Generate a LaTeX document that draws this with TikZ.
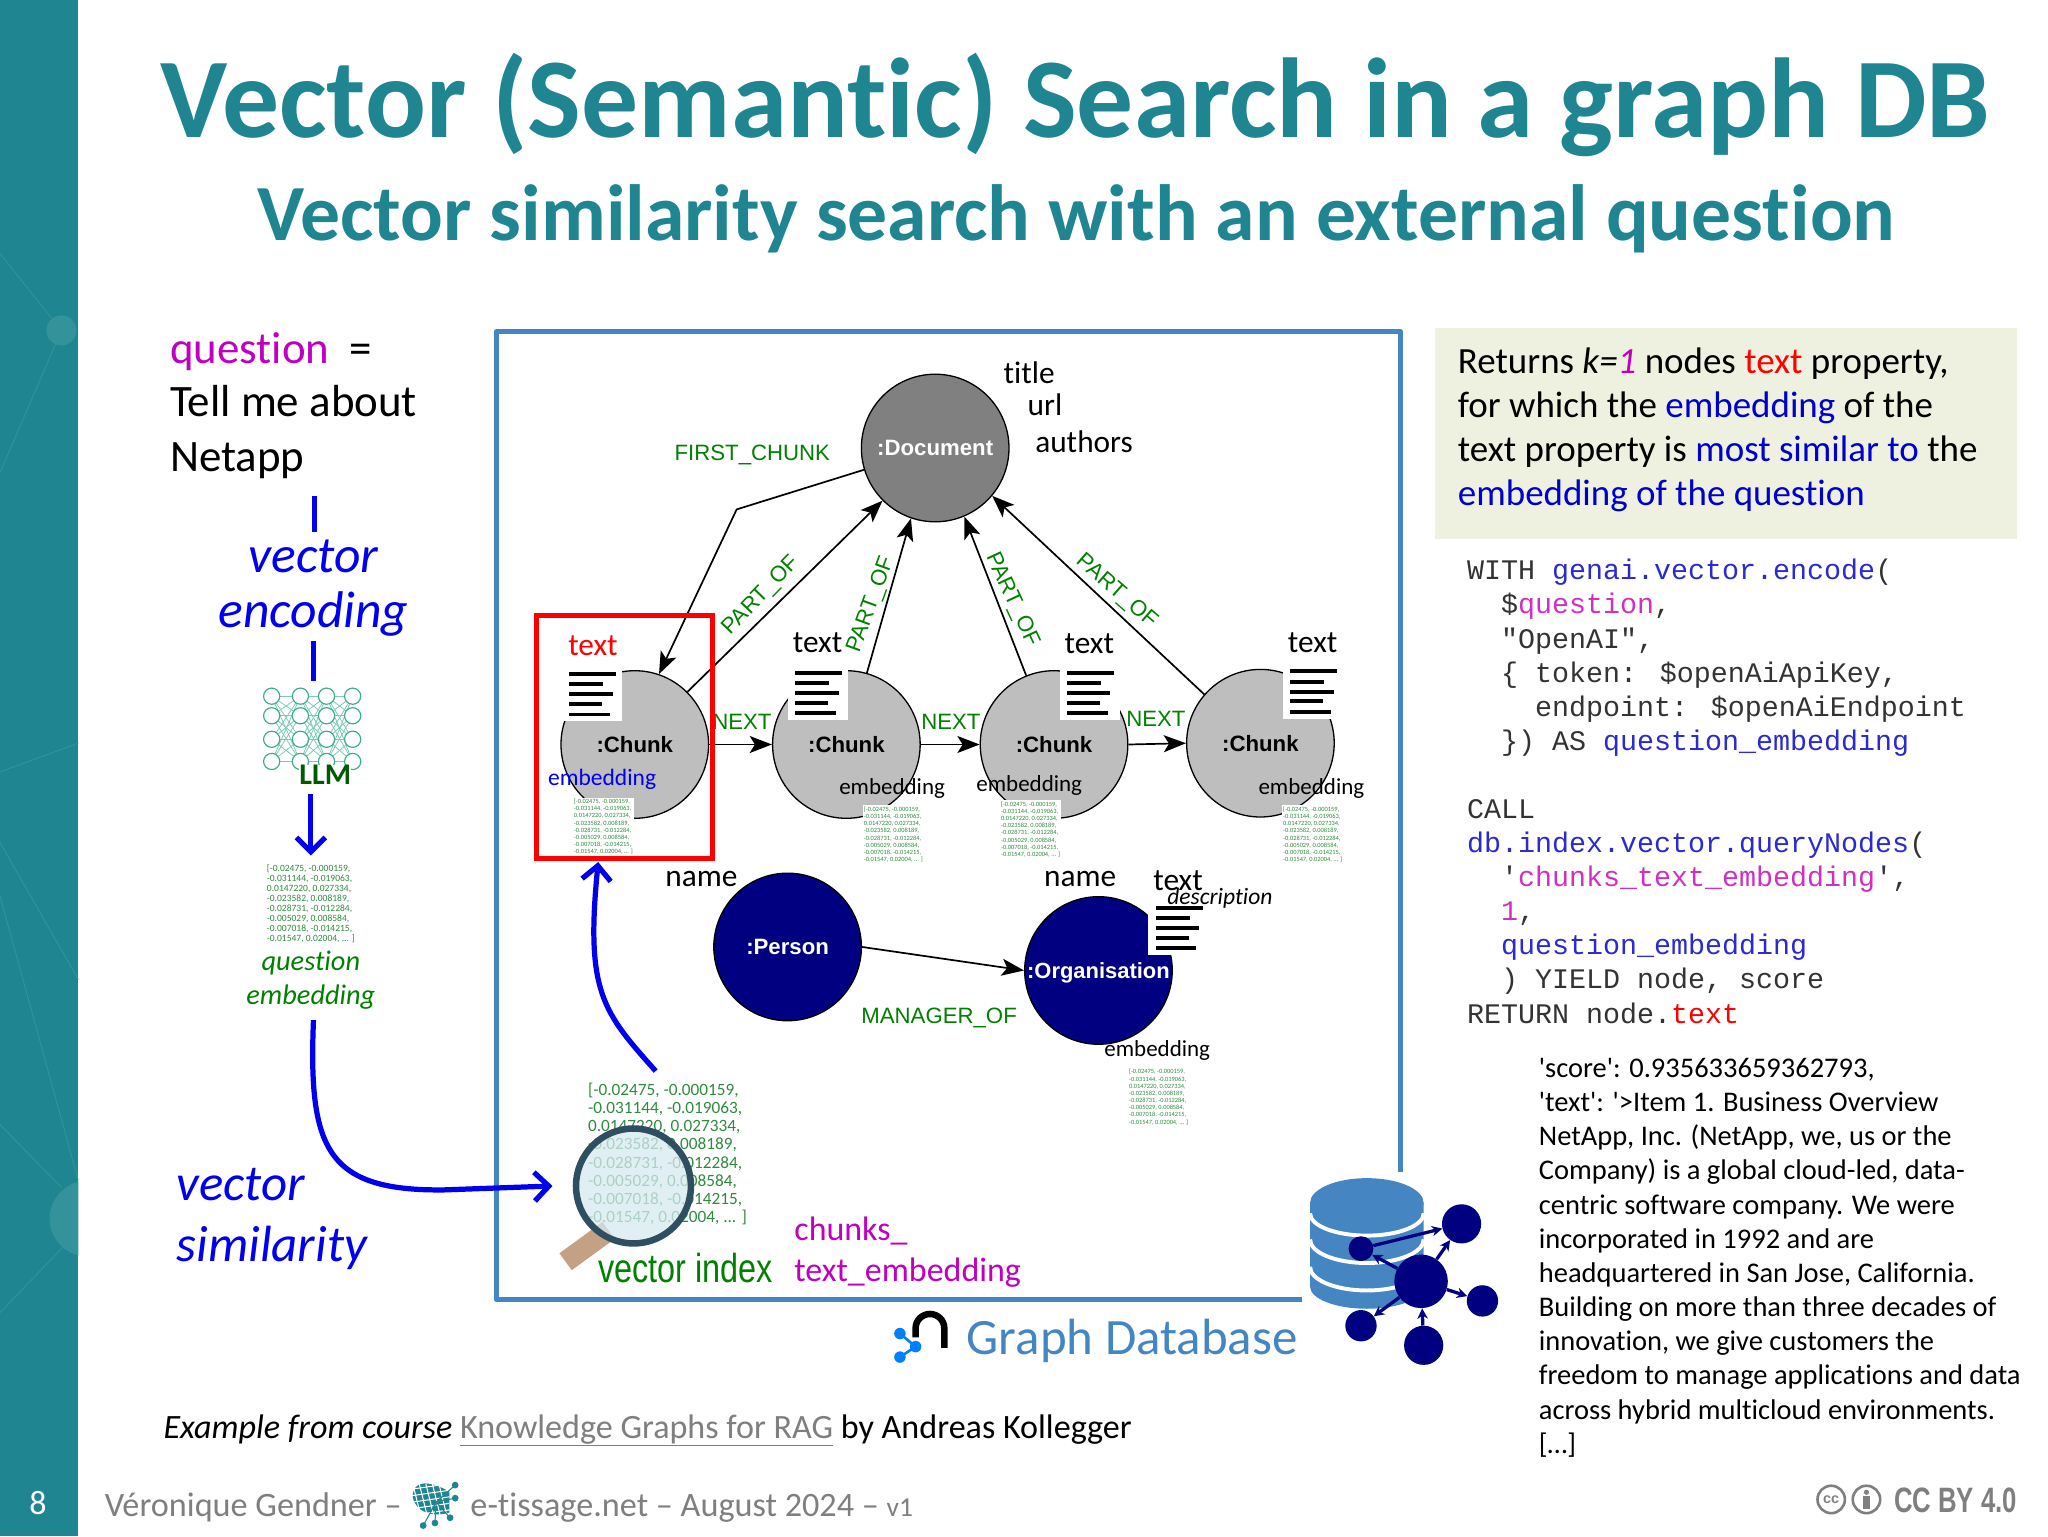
\documentclass[tikz,border=0pt]{standalone}
\usepackage{fontspec}
\setmainfont{Carlito}[Ligatures={TeX,NoCommon}]
\newfontfamily\ansfont{Carlito}[Ligatures=NoCommon]
\newfontfamily\arialfont{Liberation Sans}
\newfontfamily\codefont{Liberation Mono}
\usetikzlibrary{arrows.meta}

\definecolor{teal1}{HTML}{1F8590}
\definecolor{teal2}{HTML}{34929A}
\definecolor{frameblue}{HTML}{4585C2}
\definecolor{navy1}{HTML}{000080}
\definecolor{mag1}{HTML}{C000C0}
\definecolor{blue1}{HTML}{0000EE}
\definecolor{green1}{HTML}{008000}
\definecolor{numgreen}{HTML}{2E8B3E}
\definecolor{gray1}{HTML}{7F7F7F}
\definecolor{chunkgray}{HTML}{BEBEBE}
\definecolor{docgray}{HTML}{808080}
\definecolor{olive1}{HTML}{EEF1E0}
\definecolor{codeblue}{HTML}{2A2AD0}
\definecolor{codemag}{HTML}{D030C0}
\definecolor{lens}{HTML}{D6E9EF}
\definecolor{lensrim}{HTML}{2F4F60}
\definecolor{handle}{HTML}{C4A184}
\definecolor{netgreen}{HTML}{3CAE8C}
\definecolor{netlight}{HTML}{7CCBAF}

\tikzset{
	fs/.style={font=\fontsize{#1}{#1}\selectfont},
	txt/.style={anchor=base west,inner sep=0pt,fs=#1},
	circ/.style={circle,draw=black,line width=1pt,minimum size=113pt,inner sep=0pt},
	lab/.style={font=\arialfont\bfseries\fontsize{17}{17}\selectfont,text depth=0pt},
	rel/.style={font=\arialfont\fontsize{17}{17}\selectfont,text=green1,inner sep=0pt},
	pt/.style={fs=24,inner sep=0pt},
	emb/.style={fs=17.6,inner sep=0pt},
	arr/.style={line width=1.3pt,-{Stealth[length=17pt,width=13pt,inset=4pt]}},
	bigarr/.style={line width=4pt,blue1,-{Straight Barb[length=11pt,width=22pt,line width=4pt]}},
	nums/.style={fill=white,inner sep=1pt,align=left,text=numgreen,
		font=\fontsize{4.9}{5.5}\selectfont},
	gnode/.style={circle,fill=navy1,inner sep=0pt},
	garr/.style={line width=2.5pt,navy1,-{Stealth[length=8pt,width=8pt]}},
}

\newcommand{\vecnums}{[-0.02475, -0.000159,\\-0.031144, -0.019063,\\0.0147220, 0.027334,\\-0.023582, 0.008189,\\-0.028731, -0.012284,\\-0.005029, 0.008584,\\-0.007018, -0.014215,\\-0.01547, 0.02004, ... ]}
\newcommand{\docicon}[3]{%
	\node (#1) [fill=white,inner sep=0pt,minimum width=46pt,minimum height=42pt,anchor=north west] at (#2-6,#3-6) {};
	\draw[line width=3pt] (#2,#3) -- ++(36,0);
	\draw[line width=3pt] (#2,#3+8) -- ++(26,0);
	\draw[line width=3pt] (#2,#3+15.5) -- ++(33,0);
	\draw[line width=3pt] (#2,#3+23) -- ++(25,0);
	\draw[line width=3pt] (#2,#3+31) -- ++(31,0);
}

\begin{document}
\begin{tikzpicture}[x=1pt,y=-1pt]
	\useasboundingbox (0,0) rectangle (1568,1176);
	% side band
	\fill[teal1] (0,0) rectangle (60,1176);
	\begin{scope}
		\clip (0,0) rectangle (60,1176);
		\draw[teal2,line width=.7pt] (0,194) -- (47,253) -- (0,362);
		\fill[teal2] (47,253) circle (11.5);
		\draw[teal2,line width=.7pt] (0,591) -- (60,569);
		\draw[teal2,line width=.7pt] (0,645) -- (60,750);
		\draw[teal2,line width=.7pt] (0,686) -- (60,904);
		\draw[teal2,line width=.7pt] (0,861) -- (47,909);
		\draw[teal2,line width=.7pt] (0,1005) -- (48,955);
		\fill[teal2] (67,933) circle (29);
	\end{scope}
	\node (pagenum) [fs=26,text=white] at (29,1151) {8};

	% titles
	\node (title) [txt=87,text=teal1,font=\bfseries\fontsize{87}{87}\selectfont] at (123,105) {Vector (Semantic) Search in a graph DB};
	\node (subtitle) [txt=61,text=teal1,font=\bfseries\fontsize{61}{61}\selectfont] at (197,184) {Vector similarity search with an external question};

	% question column
	\node (question) [txt=34.4] at (130,278) {\textcolor{mag1}{question}~~=};
	\node (tell) [txt=34.4] at (130,319) {Tell me about};
	\node (netapp) [txt=34.4] at (130,361) {Netapp};
	\node (vec1) [fs=39.5,blue1,inner sep=0pt] at (240,426) {\itshape vector};
	\node (enc1) [fs=39.5,blue1,inner sep=0pt] at (240,470) {\itshape encoding};
	\coordinate (l1a) at (241,380);
	\coordinate (l1b) at (241,407);
	\coordinate (l2a) at (240,491);
	\coordinate (l2b) at (240,521);
	\draw[blue1,line width=4pt] (l1a) -- (l1b);
	\draw[blue1,line width=4pt] (l2a) -- (l2b);

	% LLM
	\foreach \xa/\xb in {208/230,230/250,250/270}
		\foreach \ya in {533,548,566,583}
			\foreach \yb in {533,548,566,583}
				\draw[netlight,line width=.6pt] (\xa,\ya) -- (\xb,\yb);
	\foreach \xa in {208,230,250,270}
		\foreach \ya in {533,548,566,583}
			\draw[netgreen,line width=.9pt,fill=white] (\xa,\ya) circle (6.2);
	\node (llm) [font=\bfseries\fontsize{23}{23}\selectfont,text=green1!70!black,fill=white,inner sep=0pt] at (249,593) {LLM};
	\coordinate (l3a) at (238,608);
	\node (qvec) [nums,font=\fontsize{7.3}{7.6}\selectfont] at (238,692) {\vecnums};
	\draw[bigarr] (l3a) -- (238,655);
	\node (qemb1) [fs=21.7,green1,inner sep=0pt] at (238,737) {\itshape question};
	\node (qemb2) [fs=21.7,green1,inner sep=0pt] at (238,763) {\itshape embedding};
	\node (sim1) [txt=39,blue1] at (135,919) {\itshape vector};
	\node (sim2) [txt=39,blue1] at (135,966) {\itshape similarity};

	% frame of the graph
	\draw[frameblue,line width=4pt,line join=round] (997,995) -| (380,254) -| (1072,897);

	% graph
	\node (doc) [circ,fill=docgray,text=white,lab] at (716,343) {:Document};
	\node (chunka) [circ,fill=chunkgray,lab] at (486,570) {:Chunk};
	\node (chunkb) [circ,fill=chunkgray,lab] at (648,570) {:Chunk};
	\node (chunkc) [circ,fill=chunkgray,lab] at (807,570) {:Chunk};
	\node (chunkd) [circ,fill=chunkgray,lab] at (965,569) {:Chunk};
	\node (person) [circ,fill=navy1,text=white,lab] at (603,725) {:Person};
	\node (org) [circ,fill=navy1,text=white,lab,font=\arialfont\bfseries\fontsize{16.8}{16.8}\selectfont] at (841,743) {:Organisation};
	\coordinate (bend) at (564,390);

	\draw[arr] (doc.197) -- (bend) -- (chunka.71);
	\draw[arr] (chunka.45) -- (doc.225);
	\draw[arr] (chunkb.74) -- (doc.251);
	\draw[arr] (chunkc.112) -- (doc.293);
	\draw[arr] (chunkd.139) -- (doc.320);
	\draw[arr] (chunka.east) -- (chunkb.west);
	\draw[arr] (chunkb.east) -- (chunkc.west);
	\draw[arr] (chunkc.east) -- (chunkd.west);
	\draw[arr] (person.east) -- (org.west);

	\node (first) [rel] at (576,348) {FIRST\_CHUNK};
	\node (po1) [rel,rotate=46] at (583,456) {PART\_OF};
	\node (po2) [rel,rotate=70] at (667,463) {PART\_OF};
	\node (po3) [rel,rotate=-65] at (775,459) {PART\_OF};
	\node (po4) [rel,rotate=-41] at (855,453) {PART\_OF};
	\node (next1) [rel] at (568,553) {NEXT};
	\node (next2) [rel] at (728,553) {NEXT};
	\node (next3) [rel] at (885,550) {NEXT};
	\node (manager) [rel] at (719,779) {MANAGER\_OF};

	\node (ttl) [pt] at (788,285) {title};
	\node (url) [pt] at (800,310) {url};
	\node (aut) [pt] at (830,338) {authors};
	\node (pname) [pt] at (537,673) {name};
	\node (oname) [pt] at (827,673) {name};
	\node (ttxt) [pt] at (902,674) {text};
	\node (txta) [pt,red] at (454,494) {text};
	\node (txtb) [pt] at (626,492) {text};
	\node (txtc) [pt] at (834,493) {text};
	\node (txtd) [pt] at (1005,492) {text};

	\docicon{icona}{436}{516}
	\docicon{iconb}{609}{515}
	\docicon{iconc}{817}{515}
	\docicon{icond}{988}{514}
	\docicon{icono}{885}{695}

	\node (desc) [emb,fs=18] at (934,688) {\itshape description};
	\node (numa) [nums] at (462,633) {\vecnums};
	\node (numb) [nums] at (684,639) {\vecnums};
	\node (numc) [nums] at (789,635) {\vecnums};
	\node (numd) [nums] at (1005,639) {\vecnums};
	\node (numo) [nums] at (887,840) {\vecnums};
	\node (emba) [emb,fs=18,blue1] at (461,597) {embedding};
	\node (embb) [emb] at (683,604) {embedding};
	\node (embc) [emb] at (788,601) {embedding};
	\node (embd) [emb] at (1004,604) {embedding};
	\node (embo) [emb] at (886,804) {embedding};

	% red box and vector index
	\node (redbox) [draw=red,line width=4pt,minimum width=135pt,minimum height=186pt,inner sep=0pt] at (478,564) {};
	\node (bignum) [inner sep=0pt,align=left,text=numgreen,font=\fontsize{13.2}{13.9}\selectfont,anchor=north west] at (450,829) {\vecnums};
	\draw[handle,line width=16pt] (466,942) -- (433,966);
	\node (glass) [circle,draw=lensrim,line width=5pt,fill=lens,fill opacity=.75,minimum size=88pt,inner sep=0pt] at (485,908) {};
	\node (vindex) [txt=33,font=\arialfont\fontsize{31}{31}\selectfont,text=green1,xscale=.8] at (458,982) {vector index};
	\node (idx1) [txt=26,mag1] at (608,950) {chunks\_};
	\node (idx2) [txt=26,mag1] at (608,981) {text\_embedding};

	% big blue arrows
	\coordinate (a1) at (240,781);
	\coordinate (a2) at (423,908);
	\draw[bigarr] (a1) .. controls (236,880) and (250,912) .. (340,911) -- (a2);
	\coordinate (b1) at (502,820);
	\draw[bigarr] (b1) .. controls (462,775) and (448,760) .. (458,660);

	% graph database
	\node (gdb) [txt=39,text=frameblue] at (740,1037) {Graph Database};
	\draw[black,line width=5pt] (701,1024) -- (701,1017) arc (180:360:11) -- (723,1032);
	\fill[blue!50!cyan] (689,1021) circle (4.4);
	\fill[blue!50!cyan] (701,1031) circle (4.4);
	\fill[blue!50!cyan] (689,1039) circle (4.4);
	\draw[blue!50!cyan,line width=2pt] (689,1021) -- (701,1031) -- (689,1039);

	% database with nodes
	\fill[frameblue] (1003,921) -- (1003,985) arc (180:0:43.5 and 17) -- (1090,921) -- cycle;
	\fill[frameblue] (1046.5,921) ellipse (43.5 and 19);
	\draw[white,line width=3pt] (1003,929) arc (180:0:43.5 and 17);
	\draw[white,line width=3pt] (1003,949) arc (180:0:43.5 and 18);
	\draw[white,line width=3pt] (1003,970) arc (180:0:43.5 and 18);
	\node (gc) [gnode,minimum size=41pt] at (1088,981) {};
	\node (gtr) [gnode,minimum size=30pt] at (1119,937) {};
	\node (gr) [gnode,minimum size=24pt] at (1135,996) {};
	\node (gb) [gnode,minimum size=30pt] at (1090,1030) {};
	\node (gbl) [gnode,minimum size=24pt] at (1042,1015) {};
	\node (gl) [gnode,minimum size=19pt] at (1042,956) {};
	\draw[garr] (gl) -- (gtr);
	\draw[garr] (gc) -- (gl);
	\draw[garr] (gc) -- (gtr);
	\draw[garr] (gc) -- (gr);
	\draw[garr] (gc) -- (gbl);
	\draw[garr] (gb) -- (gc);

	% right column
	\fill[olive1] (1099,251) rectangle (1544,413);
	\node (ret) [anchor=north west,inner sep=0pt,align=left,font=\fontsize{28.3}{33.8}\selectfont] at (1116,266) {Returns \textit{k=\textcolor{mag1}{1}} nodes \textcolor{red}{text} property,\\
		for which the \textcolor{blue!80!black}{embedding} of the\\
		text property is \textcolor{blue!80!black}{most similar to} the\\
		\textcolor{blue!80!black}{embedding of the question}};
	\node (code) [anchor=north west,inner sep=0pt,align=left,font=\codefont\fontsize{21.7}{26.1}\selectfont,text=black!80] at (1123,428) {WITH \textcolor{codeblue}{genai.vector.encode}(\\
		~~\$\textcolor{codemag}{question},\\
		~~"OpenAI",\\
		~~\{ token: \$openAiApiKey,\\
		~~~~endpoint: \$openAiEndpoint\\
		~~\}) AS \textcolor{codeblue}{question\_embedding}\\
		~\\
		CALL\\
		\textcolor{codeblue}{db.index.vector.queryNodes}(\\
		~~'\textcolor{codemag}{chunks\_text\_embedding}',\\
		~~\textcolor{codemag}{1},\\
		~~\textcolor{codeblue}{question\_embedding}\\
		~~) YIELD node, score\\
		RETURN node.\textcolor{red}{text}};
	\node (answer) [anchor=north west,inner sep=0pt,align=left,font=\ansfont\fontsize{21.8}{26.15}\selectfont] at (1178,810) {'score': 0.935633659362793,\\
		'text': '>Item 1. Business Overview\\
		NetApp, Inc. (NetApp, we, us or the\\
		Company) is a global cloud-led, data-\\
		centric software company. We were\\
		incorporated in 1992 and are\\
		headquartered in San Jose, California.\\
		Building on more than three decades of\\
		innovation, we give customers the\\
		freedom to manage applications and data\\
		across hybrid multicloud environments.\\
		{[}…{]}};

	% footer
	\node (course) [txt=26.1] at (125,1101) {\textit{Example from course} \textcolor{gray1}{\underline{Knowledge Graphs for RAG}} by Andreas Kollegger};
	\node (author) [txt=26.2,gray1] at (80,1161) {Véronique Gendner –};
	\node (site) [txt=26.2,gray1] at (360,1161) {e-tissage.net – August 2024 – {\fontsize{21}{21}\selectfont v1}};
	% logo
	\fill[teal1] (316,1146) .. controls (316,1132) and (330,1134) .. (344,1142) -- (344,1158) .. controls (332,1162) and (318,1158) .. (316,1146) -- cycle;
	\foreach \d in {0,5,10,15,20} {
		\draw[white,line width=.8pt] (316+\d,1136) -- (322+\d,1160);
		\draw[white,line width=.8pt] (316,1140+\d) -- (344,1136+\d);
	}
	\foreach \dx/\dy in {348.5/1137,348.5/1147,344.6/1162,333/1166,324/1168} {
		\fill[teal1] (\dx,\dy) circle (2.6);
		\draw[teal1,line width=.8pt] (\dx,\dy) -- (334,1150);
	}
	\node (ccb) [circle,draw=gray1,line width=2pt,minimum size=21pt,inner sep=0pt,text=gray1,font=\arialfont\bfseries\fontsize{11}{11}\selectfont] at (1402,1148) {cc};
	\node (cci) [circle,draw=gray1,line width=2pt,minimum size=21pt,inner sep=0pt] at (1429,1148) {};
	\fill[gray1] (1429,1142.5) circle (2);
	\fill[gray1] (1426,1145.5) rectangle (1432,1155);
	\node (cc) [anchor=base west,inner sep=0pt,text=gray1,font=\arialfont\bfseries\fontsize{27}{27}\selectfont,xscale=.73] at (1450,1158) {CC BY 4.0};
\end{tikzpicture}
\end{document}
